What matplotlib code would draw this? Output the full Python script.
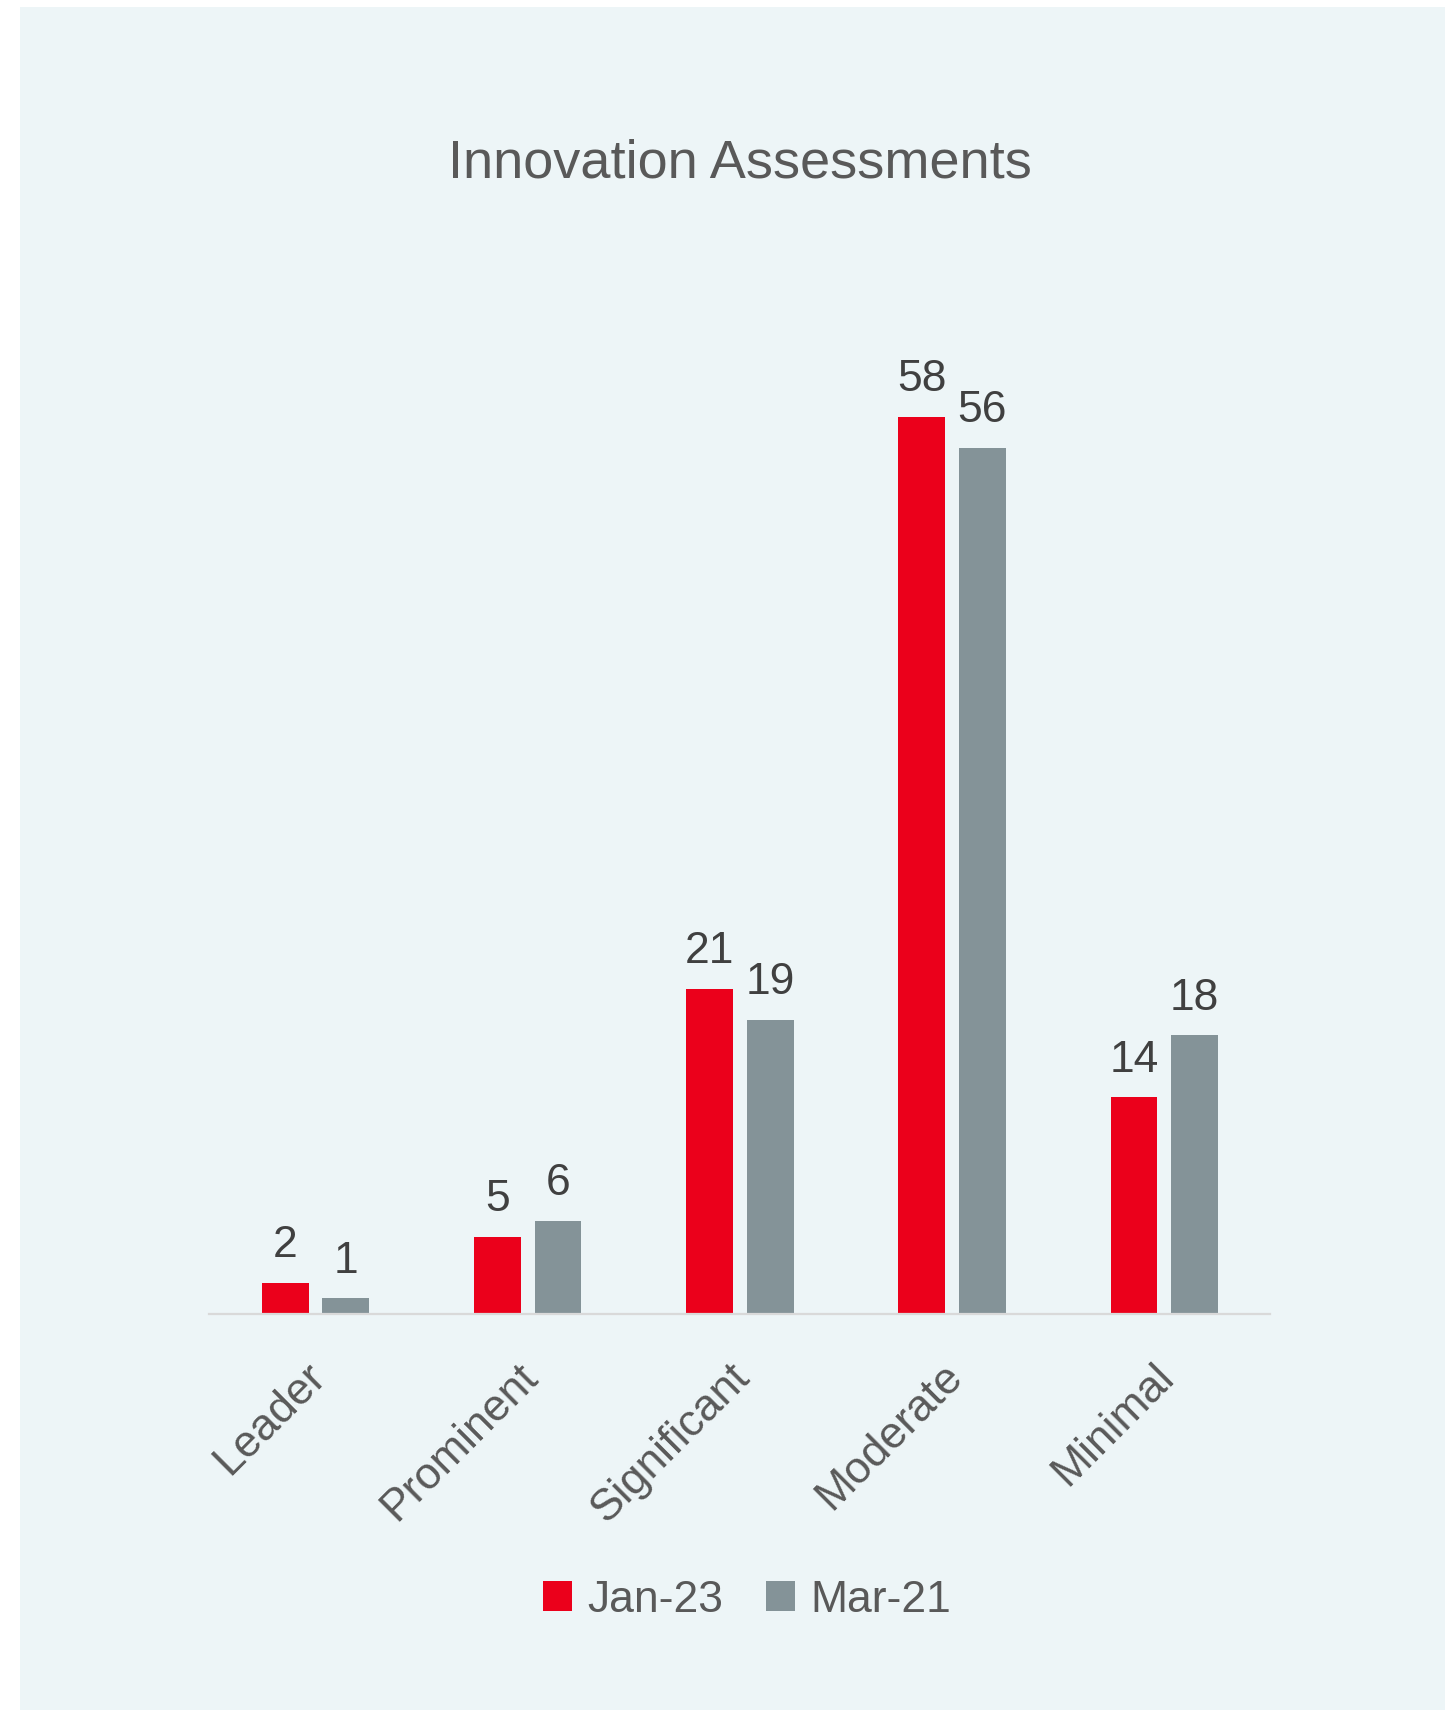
import numpy as np
import matplotlib
matplotlib.use('Agg')
import matplotlib.pyplot as plt
from matplotlib.patches import Rectangle, Patch
import matplotlib.transforms as mtransforms

# Data
categories = ['Leader', 'Prominent', 'Significant', 'Moderate', 'Minimal']
jan23 = [2, 5, 21, 58, 14]
mar21 = [1, 6, 19, 56, 18]
series_names = ['Jan-23', 'Mar-21']

# Colours
red = '#EB001B'
grey = '#849398'
panel = '#EDF5F7'
text_col = '#595959'
label_col = '#404040'

plt.rcParams['font.family'] = ['Liberation Sans', 'DejaVu Sans']

fig = plt.figure(figsize=(14.45, 17.1), dpi=100)
fig.patch.set_facecolor('white')

# Light panel behind the chart
fig.patches.append(Rectangle((20 / 1445, 0), 1 - 20 / 1445, 1 - 7 / 1710,
                             transform=fig.transFigure, facecolor=panel,
                             edgecolor='none', zorder=-5))

ax = fig.add_axes([0.1449, 0.2316, 0.7343, 0.5881])
ax.set_facecolor('none')
ax.set_zorder(2)

x = np.arange(len(categories))
width = 0.221
off = 0.143
b1 = ax.bar(x - off, jan23, width, color=red, label=series_names[0], zorder=2)
b2 = ax.bar(x + off, mar21, width, color=grey, label=series_names[1], zorder=2)

# Value labels
for bars in (b1, b2):
    ax.bar_label(bars, padding=12, fontsize=32, color=label_col)

ax.set_xlim(-0.5, 4.5)
ax.set_ylim(0, 65)
ax.set_yticks([])
for s in ['top', 'right', 'left']:
    ax.spines[s].set_visible(False)
ax.spines['bottom'].set_color('#D9D9D9')
ax.spines['bottom'].set_linewidth(1.6)

ax.set_xticks(x)
ax.set_xticklabels(categories, rotation=45, ha='right', fontsize=32, color=text_col)
ax.tick_params(axis='x', length=0, pad=30)
shift = mtransforms.ScaledTranslation(18 / 100, 0, fig.dpi_scale_trans)
for lbl in ax.get_xticklabels():
    lbl.set_transform(lbl.get_transform() + shift)

# Title
fig.text(740 / 1445, 1 - 164 / 1710, 'Innovation Assessments', ha='center', va='center',
         fontsize=39, color=text_col)

# Legend
handles = [Patch(facecolor=red, edgecolor='none'), Patch(facecolor=grey, edgecolor='none')]
leg = fig.legend(handles, series_names, loc='center', bbox_to_anchor=(747 / 1445, 1 - 1600 / 1710),
                 ncol=2, frameon=False, fontsize=32, handlelength=0.65, handleheight=0.65,
                 handletextpad=0.34, columnspacing=0.97, borderpad=0)
for t in leg.get_texts():
    t.set_color(text_col)

plt.savefig('out.png', dpi=100)
